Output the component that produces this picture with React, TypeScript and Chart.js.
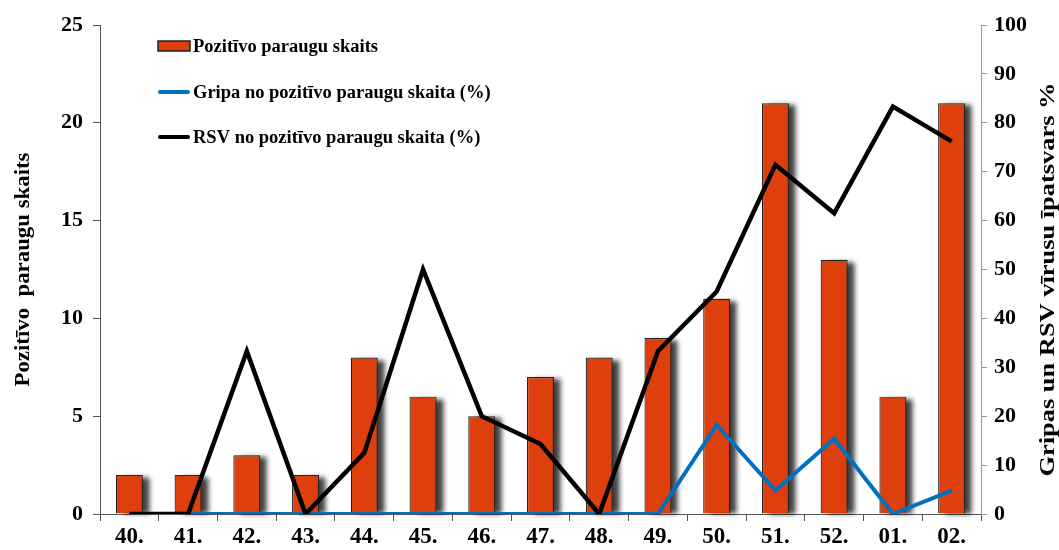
import React, { useEffect, useRef } from "react";
import { Chart, registerables } from "chart.js";

Chart.register(...registerables);

const weeks = ["40.", "41.", "42.", "43.", "44.", "45.", "46.", "47.", "48.", "49.", "50.", "51.", "52.", "01.", "02."];
const positiveCounts = [2, 2, 3, 2, 8, 6, 5, 7, 8, 9, 11, 21, 13, 6, 21];
const fluShare = [0, 0, 0, 0, 0, 0, 0, 0, 0, 0, 18.2, 4.8, 15.4, 0, 4.8];
const rsvShare = [0, 0, 33.3, 0, 12.5, 50, 20, 14.3, 0, 33.3, 45.5, 71.4, 61.5, 83.3, 76.2];
const leftTicks = [0, 5, 10, 15, 20, 25];
const rightTicks = [0, 10, 20, 30, 40, 50, 60, 70, 80, 90, 100];

const FONT = "'Liberation Serif', 'Times New Roman', serif";
const BAR_COLOR = "#DD3F0D";
const FLU_COLOR = "#0070C0";
const RSV_COLOR = "#000000";

const shadowPlugin = {
  id: "barShadow",
  beforeDatasetDraw(chart: any, args: any) {
    if (args.index !== 0) return;
    const ctx = chart.ctx;
    const meta = chart.getDatasetMeta(0);
    const far = 10000;
    ctx.save();
    ctx.shadowColor = "rgba(0,0,0,0.75)";
    ctx.shadowBlur = 5;
    ctx.shadowOffsetX = far + 7;
    ctx.shadowOffsetY = 2;
    ctx.fillStyle = "#000";
    meta.data.forEach((bar: any) => {
      const p = bar.getProps(["x", "y", "base", "width"], true);
      const left = p.x - p.width / 2;
      ctx.fillRect(left - far, p.y, p.width, p.base - p.y - 2);
    });
    ctx.restore();
  },
};

const decorPlugin = {
  id: "decor",
  afterDraw(chart: any) {
    const ctx = chart.ctx;
    const area = chart.chartArea;
    const midY = (area.top + area.bottom) / 2;

    const drawStretched = (text: string, cx: number, cy: number, target: number, size: number) => {
      ctx.save();
      ctx.font = `bold ${size}px ${FONT}`;
      ctx.fillStyle = "#000";
      ctx.textAlign = "center";
      ctx.textBaseline = "middle";
      ctx.translate(cx, cy);
      ctx.rotate(-Math.PI / 2);
      const w = ctx.measureText(text).width;
      ctx.scale(target / w, 1);
      ctx.fillText(text, 0, 0);
      ctx.restore();
    };
    drawStretched("Pozitīvo  paraugu skaits", 24, midY, 234, 20);
    drawStretched("Gripas un RSV vīrusu īpatsvars %", 1049, midY + 10, 394, 20);

    // legend
    const lx = area.left + 58;
    const rows = [area.top + 21, area.top + 67, area.top + 112];
    const ds = chart.data.datasets;
    ctx.save();
    ctx.font = `bold 18.5px ${FONT}`;
    ctx.textBaseline = "middle";
    ctx.textAlign = "left";
    ds.forEach((d: any, i: number) => {
      const y = rows[i];
      if (d.type === "bar") {
        ctx.fillStyle = d.backgroundColor;
        ctx.fillRect(lx, y - 5, 32, 10);
        ctx.strokeStyle = "#222";
        ctx.lineWidth = 1.5;
        ctx.strokeRect(lx, y - 5, 32, 10);
      } else {
        ctx.strokeStyle = d.borderColor;
        ctx.lineWidth = 4;
        ctx.lineCap = "round";
        ctx.beginPath();
        ctx.moveTo(lx + 2, y);
        ctx.lineTo(lx + 30, y);
        ctx.stroke();
      }
      ctx.fillStyle = "#000";
      ctx.fillText(d.label, lx + 35, y + 1);
    });
    ctx.restore();
  },
};

export default function App() {
  const ref = useRef<HTMLCanvasElement>(null);

  useEffect(() => {
    if (!ref.current) return;
    const chart = new Chart(ref.current, {
      type: "bar",
      data: {
        labels: weeks,
        datasets: [
          {
            type: "bar",
            label: "Pozitīvo paraugu skaits",
            data: positiveCounts,
            backgroundColor: BAR_COLOR,
            borderColor: "#222",
            borderWidth: 1.2,
            yAxisID: "y",
            order: 3,
            categoryPercentage: 1,
            barPercentage: 0.46,
          },
          {
            type: "line",
            label: "Gripa no pozitīvo paraugu skaita (%)",
            data: fluShare,
            borderColor: FLU_COLOR,
            backgroundColor: FLU_COLOR,
            borderWidth: 4,
            pointRadius: 0,
            tension: 0,
            yAxisID: "y1",
            order: 2,
          },
          {
            type: "line",
            label: "RSV no pozitīvo paraugu skaita (%)",
            data: rsvShare,
            borderColor: RSV_COLOR,
            backgroundColor: RSV_COLOR,
            borderWidth: 4.5,
            pointRadius: 0,
            tension: 0,
            yAxisID: "y1",
            order: 1,
          },
        ] as any,
      },
      options: {
        responsive: false,
        animation: false,
        layout: { padding: { top: 25, left: 0, right: 0, bottom: 0 } },
        plugins: {
          legend: { display: false },
          tooltip: { enabled: false },
          title: { display: false },
        },
        scales: {
          x: {
            type: "category",
            offset: true,
            grid: { display: true, offset: true, drawOnChartArea: false, drawTicks: true, tickLength: 7, color: "#555" },
            border: { display: true, color: "#555", width: 1 },
            ticks: { color: "#000", font: { family: FONT, size: 23, weight: "bold" }, padding: 2, maxRotation: 0, autoSkip: false },
            afterFit(scale: any) {
              scale.height = 36;
            },
          },
          y: {
            position: "left",
            min: 0,
            max: 25,
            afterBuildTicks(scale: any) {
              scale.ticks = leftTicks.map((v) => ({ value: v }));
            },
            grid: { display: true, drawOnChartArea: false, drawTicks: true, tickLength: 7, color: "#555" },
            border: { display: true, color: "#555", width: 1 },
            ticks: { color: "#000", font: { family: FONT, size: 22, weight: "bold" }, padding: 10 },
            afterFit(scale: any) {
              scale.width = 100;
            },
          },
          y1: {
            position: "right",
            min: 0,
            max: 100,
            afterBuildTicks(scale: any) {
              scale.ticks = rightTicks.map((v) => ({ value: v }));
            },
            grid: { display: true, drawOnChartArea: false, drawTicks: true, tickLength: 6, color: "#999" },
            border: { display: true, color: "#999", width: 1 },
            ticks: { color: "#000", font: { family: FONT, size: 22, weight: "bold" }, padding: 7 },
            afterFit(scale: any) {
              scale.width = 78;
            },
          },
        },
      } as any,
      plugins: [shadowPlugin, decorPlugin],
    });
    return () => chart.destroy();
  }, []);

  return (
    <div style={{ position: "absolute", left: 0, top: 0, width: 1059, height: 550, background: "#fff" }}>
      <canvas ref={ref} width={1059} height={550} style={{ display: "block" }} />
    </div>
  );
}
